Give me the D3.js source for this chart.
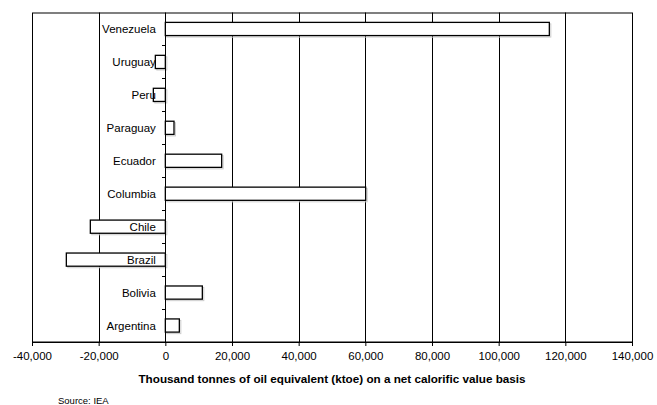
<!DOCTYPE html>
<html><head><meta charset="utf-8">
<script src="https://cdn.jsdelivr.net/npm/d3@7"></script>
<style>body{margin:0;background:#fff}svg{display:block}text{font-family:"Liberation Sans",Arial,sans-serif}</style>
</head><body><svg id="c" width="657" height="405"></svg>
<script>
const categories = ["Venezuela","Uruguay","Peru","Paraguay","Ecuador","Columbia","Chile","Brazil","Bolivia","Argentina"];
const values = [115200,-3000,-3600,2600,16900,60100,-22500,-29700,11100,4200];
const xTicks = [-40000,-20000,0,20000,40000,60000,80000,100000,120000,140000];
const xTitle = "Thousand tonnes of oil equivalent (ktoe) on a net calorific value basis";
const source = "Source: IEA";

const svg = d3.select("#c");
const L = 32, R = 632, T = 12.5, B = 342;
const x = d3.scaleLinear().domain([-40000,140000]).range([L,R]);
const y = d3.scaleBand().domain(categories).range([T,B]).paddingInner(0.6).paddingOuter(0.3);
const yb = d3.scaleBand().domain(categories).range([T,B]);
const fmt = v => d3.format(",")(v).replace("\u2212","-");

// gridlines
svg.append("g").selectAll("line").data(xTicks.filter(t=>t>-40000 && t<140000 && t!==0)).join("line")
  .attr("x1",d=>Math.round(x(d))+0.5).attr("x2",d=>Math.round(x(d))+0.5)
  .attr("y1",T).attr("y2",B).attr("stroke","#000").attr("stroke-width",1);

// border
svg.append("rect").attr("x",L+0.5).attr("y",T+0.5).attr("width",R-L).attr("height",B-T-0.5)
  .attr("fill","none").attr("stroke","#000").attr("stroke-width",1);

// bars shadow
const bars = categories.map((c,i)=>({c,v:values[i]}));
svg.append("g").selectAll("rect").data(bars).join("rect")
  .attr("x",d=>Math.min(x(0),x(d.v))+1.5).attr("y",d=>y(d.c)+1.5)
  .attr("width",d=>Math.abs(x(d.v)-x(0))).attr("height",y.bandwidth())
  .attr("fill","none").attr("stroke","#ccc").attr("stroke-width",1);
svg.append("g").selectAll("rect").data(bars).join("rect")
  .attr("x",d=>Math.min(x(0),x(d.v))).attr("y",d=>y(d.c))
  .attr("width",d=>Math.abs(x(d.v)-x(0))).attr("height",y.bandwidth())
  .attr("fill","#fff").attr("stroke","#000").attr("stroke-width",1.3);

// zero axis line
svg.append("line").attr("x1",Math.round(x(0))+0.5).attr("x2",Math.round(x(0))+0.5)
  .attr("y1",T).attr("y2",B).attr("stroke","#000");
// y tick marks at band boundaries
svg.append("g").selectAll("line").data(categories.slice(1)).join("line")
  .attr("x1",Math.round(x(0))-3).attr("x2",Math.round(x(0)))
  .attr("y1",d=>Math.round(yb(d))+0.5).attr("y2",d=>Math.round(yb(d))+0.5).attr("stroke","#000");

// category labels
svg.append("g").selectAll("text").data(categories).join("text")
  .attr("x",x(0)-9.5).attr("y",d=>yb(d)+yb.bandwidth()/2).attr("dy","0.35em")
  .attr("text-anchor","end").attr("font-size",11.5).attr("fill","#000").text(d=>d);

// x axis
const xa = svg.append("g").attr("transform",`translate(0,${B})`)
  .call(d3.axisBottom(x).tickValues(xTicks).tickFormat(fmt).tickSize(4).tickPadding(6));
xa.select(".domain").remove();
xa.selectAll(".tick line").attr("stroke","#000");
xa.selectAll(".tick text").attr("font-size",11.5).attr("fill","#000").attr("font-family","Liberation Sans, Arial, sans-serif");
svg.append("line").attr("x1",L).attr("x2",R+1).attr("y1",B+0.5).attr("y2",B+0.5).attr("stroke","#000");

svg.append("text").attr("x",332).attr("y",383).attr("text-anchor","middle")
  .attr("font-size",11.7).attr("font-weight","bold").attr("fill","#000").text(xTitle);
svg.append("text").attr("x",58).attr("y",404).attr("font-size",9.5).attr("fill","#000").text(source);
</script></body></html>
